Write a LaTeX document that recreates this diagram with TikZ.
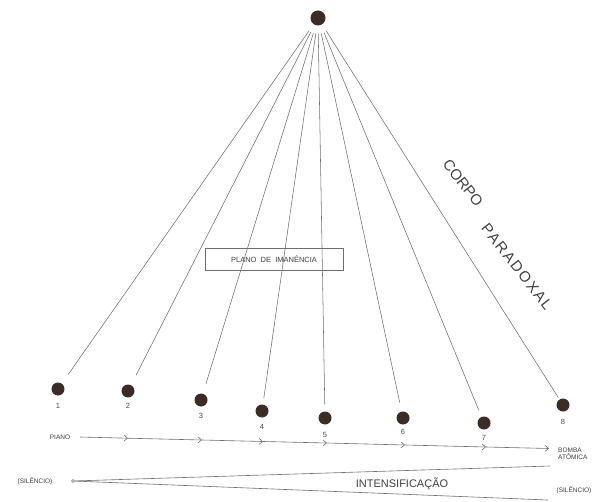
\documentclass[tikz,border=0pt]{standalone}
\usepackage{fontspec}
\setmainfont{Liberation Sans}
\newfontfamily\spacedfont[LetterSpace=12]{Liberation Sans}
\usetikzlibrary{arrows.meta,decorations.markings}
\definecolor{dotc}{HTML}{3B2C25}
\definecolor{inkc}{HTML}{6E6E6E}
\tikzset{
  dotnode/.style={circle,fill=dotc,draw=none,minimum size=13pt,inner sep=0pt},
  topdot/.style={circle,fill=dotc,draw=none,minimum size=15pt,inner sep=0pt},
  ray/.style={draw=inkc,line width=0.55pt,shorten <=8pt},
  numlab/.style={font=\fontsize{7.5}{8}\selectfont,text=black!70,inner sep=0pt},
  smalllab/.style={font=\fontsize{6.5}{7.5}\selectfont,text=black!75,inner sep=0pt,align=left},
  bigrot/.style={font=\fontsize{15}{16}\selectfont,text=black!75,inner sep=0pt,rotate=-52},
  boxlab/.style={draw=inkc,line width=0.5pt,font=\fontsize{7.5}{8}\selectfont,text=black!75,minimum width=138pt,minimum height=22pt,inner sep=0pt},
  flow/.style={draw=inkc,line width=0.6pt},
  chev/.style={-{Straight Barb[length=3.5pt,width=6pt]}}
}
\begin{document}
\begin{tikzpicture}[x=1pt,y=-1pt]
\useasboundingbox (0,0) rectangle (596,502);
% top dot
\node[topdot] (t) at (318,18) {};
% bottom dots
\node[dotnode] (b1) at (58,389) {};
\node[dotnode] (b2) at (128,391) {};
\node[dotnode] (b3) at (201,400) {};
\node[dotnode] (b4) at (262,411) {};
\node[dotnode] (b5) at (325,418) {};
\node[dotnode] (b6) at (403,418) {};
\node[dotnode] (b7) at (484,423) {};
\node[dotnode] (b8) at (563,405) {};
% numbers
\node[numlab] (n1) at (58,406) {1};
\node[numlab] (n2) at (128,406) {2};
\node[numlab] (n3) at (201,416) {3};
\node[numlab] (n4) at (262,427) {4};
\node[numlab] (n5) at (325,435) {5};
\node[numlab] (n6) at (403,432) {6};
\node[numlab] (n7) at (484,438) {7};
\node[numlab] (n8) at (563,422) {8};
% rays
\draw[ray,shorten >=11pt] (t) -- (b1);
\draw[ray,shorten >=11pt] (t) -- (b2);
\draw[ray,shorten >=10pt] (t) -- (b3);
\draw[ray,shorten >=6pt] (t) -- (b4);
\draw[ray,shorten >=7pt] (t) -- (b5);
\draw[ray,shorten >=9pt] (t) -- (b6);
\draw[ray,shorten >=7pt] (t) -- (b7);
\draw[ray,shorten >=2pt] (t) -- (b8);
% plano de imanencia
\node[boxlab] (pi) at (274,259) {PLANO\ \ DE\ \ IMANÊNCIA};
% corpo paradoxal
\node[bigrot] (corpo) at (463,183) {CORPO};
\node[bigrot,font=\fontsize{15}{16}\spacedfont] (parad) at (517,267) {PARADOXAL};
% piano line
\node[smalllab] (piano) at (60,437) {PIANO};
\coordinate (p0) at (80,437);
\coordinate (p1) at (128,438.2);
\coordinate (p2) at (202,440);
\coordinate (p3) at (263,441.5);
\coordinate (p4) at (327,443);
\coordinate (p5) at (405,445);
\coordinate (p6) at (486,447);
\coordinate (p7) at (549,448.5);
\draw[flow,chev] (p0) -- (p1);
\draw[flow,chev] (p1) -- (p2);
\draw[flow,chev] (p2) -- (p3);
\draw[flow,chev] (p3) -- (p4);
\draw[flow,chev] (p4) -- (p5);
\draw[flow,chev] (p5) -- (p6);
\draw[flow,chev] (p6) -- (p7);
\node[smalllab,anchor=west] (bomba) at (558,454) {BOMBA\\ATÔMICA};
% intensificacao
\node[smalllab] (sil1) at (35,481) {(SILÊNCIO)};
\node[circle,draw=inkc,line width=0.5pt,inner sep=0pt,minimum size=3pt] (o) at (73,481) {};
\coordinate (u) at (550,466);
\coordinate (l) at (548,500);
\draw[flow] (o) -- (u);
\draw[flow] (o) -- (l);
\node[font=\fontsize{11}{12}\selectfont,text=black!75,inner sep=0pt] (int) at (402,484) {INTENSIFICAÇÃO};
\node[smalllab] (sil2) at (574,490) {(SILÊNCIO)};
\end{tikzpicture}
\end{document}
